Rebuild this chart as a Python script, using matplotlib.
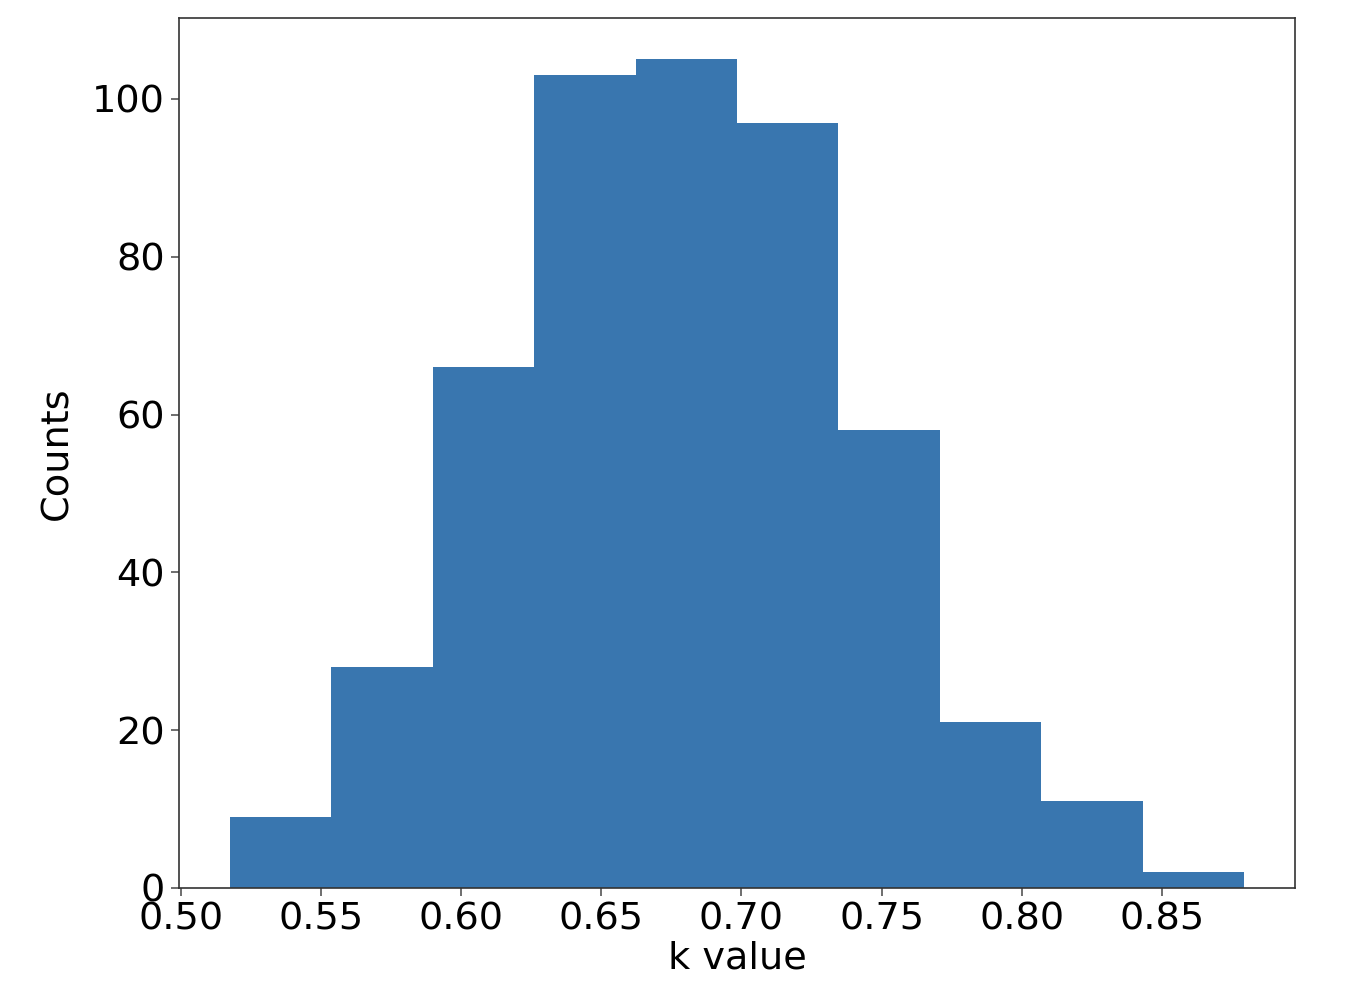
import numpy as np
import matplotlib
matplotlib.use("Agg")
import matplotlib.pyplot as plt

# histogram (500 samples in total)
k_min = 0.5175
k_max = 0.8793
counts = [9, 28, 66, 103, 105, 97, 58, 21, 11, 2]

edges = np.linspace(k_min, k_max, len(counts) + 1)

plt.rcParams["font.size"] = 27.5

fig = plt.figure(figsize=(13.5, 9.98), dpi=100)
ax = fig.add_axes([179 / 1350, 1 - 888 / 998, (1295 - 179) / 1350, (888 - 18) / 998])

ax.hist(edges[:-1], bins=edges, weights=counts, color="#3976af")

ax.set_xticks([0.50, 0.55, 0.60, 0.65, 0.70, 0.75, 0.80, 0.85])
ax.set_yticks([0, 20, 40, 60, 80, 100])
ax.set_xlabel("k value", labelpad=2)
ax.set_ylabel("Counts", labelpad=12)
for s in ax.spines.values():
    s.set_color("#333333")
    s.set_linewidth(1.2)
ax.tick_params(length=6, width=1.2, color="#555555", pad=4)

fig.savefig("out.png", dpi=100)
